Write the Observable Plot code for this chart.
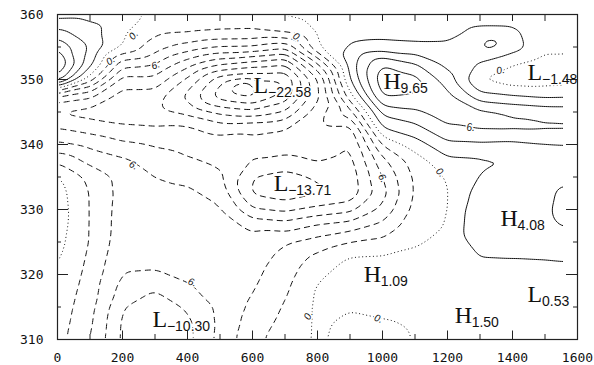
<!DOCTYPE html>
<html>
<head>
<meta charset="utf-8">
<script src="https://cdn.jsdelivr.net/npm/d3@7"></script>
<script src="https://cdn.jsdelivr.net/npm/@observablehq/plot@0.6"></script>
<style>
html,body{margin:0;padding:0;background:#fff;}
#chart{width:594px;height:365px;overflow:hidden;}
</style>
</head>
<body>
<div id="chart"></div>
<script>
// ---------- axis ticks ----------
const xMajor = [0,200,400,600,800,1000,1200,1400,1600];
const xMinor = [100,300,500,700,900,1100,1300,1500];
const yMajor = [310,320,330,340,350,360];
const yMinor = [315,325,335,345,355];

// ---------- field samples ----------
const gridX = [0,100,200,300,400,500,600,700,800,900,1000,1100,1200,1300,1400,1500,1560];
const gridY = [360,357.5,355,352.5,350,347.5,345,342.5,340,337.5,335,332.5,330,327.5,325,322.5,320,317.5,315,312.5,310];
const gridV = [
 [1.0, 1.2, 0.8, -0.4, -0.8, -1.0, -1.0, 0.3, 0.6, 1.1, 1.0, 1.0, 1.1, 1.0, 0.8, 0.6, 0.5],
 [4.4, 2.9, 0.4, -1.4, -1.6, -1.9, -2.0, -1.3, 0.4, 1.3, 1.3, 1.2, 1.3, 2.4, 2.4, 1.0, 0.8],
 [7.9, 3.9, 0.0, -3.0, -4.8, -6.0, -6.1, -7.4, 0.0, 2.2, 2.6, 2.4, 2.4, 4.0, 3.0, 0.6, 0.4],
 [10.5, 2.9, -5.0, -5.8, -9.0, -11.5, -12.7, -13.7, -6.0, 3.0, 7.8, 6.0, 3.4, 1.8, 0.2, -0.9, -0.6],
 [7.6, -1.0, -8.8, -8.6, -12.4, -17.2, -18.0, -17.9, -10.2, 2.1, 9.3, 8.8, 4.8, -0.2, -1.3, -1.0, -0.9],
 [-6.0, -7.5, -10.8, -11.0, -14.6, -19.2, -20.5, -17.5, -10.5, -0.6, 8.2, 7.8, 6.6, 2.6, 2.0, 1.5, 1.6],
 [-10.4, -10.9, -11.2, -11.5, -12.6, -14.5, -15.3, -13.8, -9.0, -4.8, 4.6, 5.6, 6.8, 6.6, 5.8, 5.3, 5.2],
 [-8.0, -8.8, -9.6, -9.8, -9.6, -10.8, -10.3, -10.0, -8.4, -8.7, 2.0, 3.3, 5.8, 6.3, 6.4, 6.4, 6.4],
 [-5.6, -6.5, -7.6, -8.2, -8.6, -9.0, -9.6, -9.0, -8.8, -10.0, -1.8, 1.0, 3.5, 3.6, 3.4, 3.8, 3.9],
 [-2.4, -4.6, -5.6, -7.0, -7.8, -8.5, -10.0, -10.6, -9.8, -10.6, -4.6, -1.0, 1.5, 1.7, 1.9, 2.9, 3.2],
 [0.3, -2.6, -4.6, -6.0, -6.5, -7.6, -12.0, -12.8, -11.8, -11.2, -6.0, -1.6, 0.2, 2.1, 2.6, 3.2, 3.6],
 [0.9, -2.1, -4.7, -5.4, -5.6, -6.7, -12.3, -13.2, -12.3, -11.4, -6.8, -1.7, -0.1, 3.0, 3.3, 3.6, 4.4],
 [1.1, -2.1, -4.9, -5.1, -5.1, -5.8, -9.8, -10.5, -9.4, -8.6, -5.5, -1.4, -0.1, 3.7, 3.8, 3.6, 4.8],
 [1.0, -2.1, -5.0, -5.1, -5.0, -5.1, -6.5, -7.0, -5.7, -5.0, -3.5, -0.9, 0.1, 3.8, 3.7, 3.4, 4.2],
 [0.7, -2.1, -5.2, -5.3, -5.2, -5.0, -5.3, -4.2, -3.2, -2.0, -1.5, -0.2, 0.4, 3.0, 2.9, 2.8, 3.0],
 [0.3, -2.4, -5.6, -5.7, -5.5, -5.1, -4.9, -3.4, -1.4, 0.2, 0.3, 0.4, 0.8, 1.9, 2.0, 2.1, 2.2],
 [-0.1, -2.7, -6.0, -6.1, -5.8, -5.3, -4.5, -2.8, -0.4, 0.9, 0.9, 0.7, 1.0, 1.3, 1.2, 1.2, 1.3],
 [-0.5, -3.0, -6.8, -8.0, -6.2, -5.5, -4.1, -2.3, 0.3, 1.0, 0.9, 0.8, 1.2, 1.0, 0.7, 0.7, 0.8],
 [-0.8, -3.3, -7.8, -9.4, -7.7, -5.6, -3.6, -1.8, 0.4, 0.2, 0.5, 0.6, 1.4, 0.9, 0.65, 0.6, 0.7],
 [-1.0, -3.6, -8.3, -10.0, -8.5, -5.6, -3.1, -1.4, 0.35, -0.5, -0.2, 0.2, 1.45, 1.0, 0.8, 0.7, 0.7],
 [-1.2, -4.0, -8.4, -9.8, -8.6, -5.4, -2.6, -0.9, 0.3, -0.8, -0.6, 0.05, 1.2, 1.0, 0.9, 0.8, 0.7]
];

// ---------- labelled highs and lows ----------
const hlType   = ["L", "H", "L", "L", "H", "H", "H", "L", "L"];
const hlValue  = [-22.58, 9.65, -1.48, -13.71, 4.08, 1.09, 1.50, 0.53, -10.30];
const hlX      = [590, 1025, 1431, 692, 1342, 932, 1209, 1431, 277];     // extremum location
const hlY      = [349.2, 349.8, 350.2, 333.4, 328.6, 319.7, 313.2, 316.3, 313.1];
const hlLabelX = [603, 1003, 1446, 665, 1363, 942, 1222, 1446, 292];      // label position
const hlLabelY = [347.85, 348.6, 349.85, 332.8, 327.4, 318.8, 312.6, 315.7, 311.85];

// unlabelled small closed high (top right)
const peakX = [1330];
const peakY = [355.5];
const peakV = [5.0];

// ---------- contour levels ----------
const negLevels = [-22,-20,-18,-16,-14,-12,-10,-8,-6,-4,-2];
const zeroLevels = [0];
const posLevels = [2,4,6,8,10];

// ---------- contour line labels ----------
const cLabText  = ["0.","0.","6.","0.","6.","6.","0.","6.","0.","6.","0.","0."];
const cLabX     = [234, 163, 302, 738, 234, 1000, 1178, 1271, 1363, 415, 772, 988];
const cLabY     = [356.8, 352.9, 352.2, 356.5, 336.8, 334.8, 335.7, 342.5, 351.4, 318.8, 313.7, 313.2];
const cLabAngle = [-50, -35, -20, 35, 30, 60, 45, 0, -10, 20, -65, 20];

// ---------- build tables ----------
const samples = [];
gridY.forEach((y, r) => gridX.forEach((x, c) => samples.push({x, y, v: gridV[r][c]})));
hlX.forEach((x, i) => samples.push({x, y: hlY[i], v: hlValue[i]}));
peakX.forEach((x, i) => samples.push({x, y: peakY[i], v: peakV[i]}));

const hl = hlType.map((t, i) => ({
  t, x: hlLabelX[i], y: hlLabelY[i],
  s: (hlValue[i] < 0 ? "\u2212" : "") + Math.abs(hlValue[i]).toFixed(2)
}));
const cLabels = cLabText.map((t, i) => ({t, x: cLabX[i], y: cLabY[i], a: cLabAngle[i]}));

const common = {
  x: "x", y: "y", value: "v",
  interpolate: "barycentric",
  x1: 0, x2: 1560, y1: 310, y2: 360,
  pixelSize: 2, blur: 1.5,
  fill: "none", stroke: "#111", strokeWidth: 1
};

const halo = {stroke: "white", strokeWidth: 3, fill: "#111"};

const plot = Plot.plot({
  width: 594, height: 365,
  marginLeft: 57, marginRight: 17, marginTop: 14, marginBottom: 26,
  x: {domain: [0, 1600]},
  y: {domain: [310, 360]},
  style: {fontFamily: "'DejaVu Sans Mono', monospace", fontSize: "13px", background: "white", color: "#111"},
  marks: [
    Plot.contour(samples, {...common, thresholds: negLevels, strokeDasharray: "6,4"}),
    Plot.contour(samples, {...common, thresholds: zeroLevels, strokeDasharray: "1,2.6"}),
    Plot.contour(samples, {...common, thresholds: posLevels}),
    // contour labels
    Plot.text(cLabels, {x: "x", y: "y", text: "t", rotate: "a", fontSize: 10, fontStyle: "italic",
      fontFamily: "'Liberation Sans', sans-serif", ...halo}),
    // H / L letters
    Plot.text(hl, {x: "x", y: "y", text: "t", textAnchor: "start", lineAnchor: "bottom",
      fontSize: 24, fontFamily: "'Liberation Serif', serif", ...halo}),
    Plot.text(hl.filter(d => d.t === "L"), {x: "x", y: "y", text: "s", textAnchor: "start", lineAnchor: "bottom",
      dx: 14.5, dy: 4, fontSize: 14, fontFamily: "'Liberation Sans', sans-serif", ...halo}),
    Plot.text(hl.filter(d => d.t === "H"), {x: "x", y: "y", text: "s", textAnchor: "start", lineAnchor: "bottom",
      dx: 17, dy: 4, fontSize: 14, fontFamily: "'Liberation Sans', sans-serif", ...halo}),
    // inward ticks
    Plot.ruleX(xMajor, {x: d => d, y1: 310, y2: 310, insetBottom: 8.5, stroke: "#222"}),
    Plot.ruleX(xMinor, {x: d => d, y1: 310, y2: 310, insetBottom: 5, stroke: "#222"}),
    Plot.ruleX(xMajor.concat(xMinor), {x: d => d, y1: 360, y2: 360, insetBottom: -7, stroke: "#222"}),
    Plot.ruleY(yMajor, {y: d => d, x1: 0, x2: 0, insetRight: -11, stroke: "#222"}),
    Plot.ruleY(yMinor, {y: d => d, x1: 0, x2: 0, insetRight: -4, stroke: "#222"}),
    Plot.ruleY(yMajor, {y: d => d, x1: 1600, x2: 1600, insetLeft: -11, stroke: "#222"}),
    Plot.ruleY(yMinor, {y: d => d, x1: 1600, x2: 1600, insetLeft: -4, stroke: "#222"}),
    Plot.frame({stroke: "#222", strokeWidth: 1.2}),
    Plot.axisX(xMajor, {anchor: "bottom", tickSize: 0, tickPadding: 13, label: null, tickFormat: d => String(d)}),
    Plot.axisY(yMajor, {anchor: "left", tickSize: 0, tickPadding: 14, label: null, tickFormat: d => String(d)})
  ]
});

// clip the contour lines to the interior of the data area (the field ends at x = 1560)
const xs = plot.scale("x"), ys = plot.scale("y");
const svgSel = d3.select(plot.tagName.toLowerCase() === "svg" ? plot : plot.querySelector("svg"));
const defs = svgSel.insert("defs", ":first-child");
const cx0 = xs.apply(0) + 1.5, cx1 = xs.apply(1560) - 1.5;
const cy0 = ys.apply(360) + 1.5, cy1 = ys.apply(310) - 1.5;
defs.append("clipPath").attr("id", "fieldclip").append("rect")
  .attr("x", cx0).attr("y", cy0).attr("width", cx1 - cx0).attr("height", cy1 - cy0);
svgSel.selectAll('g[aria-label="contour"]').attr("clip-path", "url(#fieldclip)");

document.getElementById("chart").append(plot);
</script>
</body>
</html>
